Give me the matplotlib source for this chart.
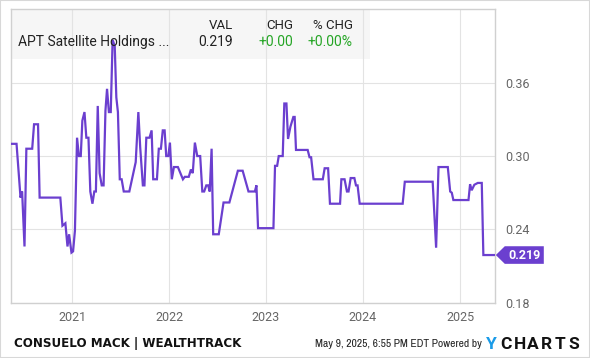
import numpy as np
import pandas as pd
import matplotlib
matplotlib.use("Agg")
import matplotlib.pyplot as plt
import matplotlib.dates as mdates
from matplotlib.patches import Rectangle, Polygon
from matplotlib import font_manager

plt.rcParams['font.family'] = ['Roboto', 'DejaVu Sans']

# price history
dates = [
    "2020-05-13", "2020-06-05", "2020-06-20", "2020-06-26", "2020-07-05", "2020-07-12",
    "2020-08-03", "2020-08-10", "2020-08-25", "2020-08-31", "2020-11-17", "2020-11-25",
    "2020-12-06", "2020-12-14", "2020-12-20", "2020-12-29", "2021-01-04", "2021-01-11",
    "2021-01-19", "2021-01-26", "2021-02-02", "2021-02-08", "2021-02-16", "2021-02-23",
    "2021-03-03", "2021-03-10", "2021-03-18", "2021-03-25", "2021-03-31", "2021-04-07",
    "2021-04-14", "2021-04-22", "2021-04-29", "2021-05-06", "2021-05-12", "2021-05-19",
    "2021-05-26", "2021-06-02", "2021-06-10", "2021-06-16", "2021-06-22", "2021-06-29",
    "2021-07-06", "2021-07-14", "2021-08-04", "2021-08-28", "2021-09-07", "2021-09-14",
    "2021-09-24", "2021-09-30", "2021-10-07", "2021-10-19", "2021-10-27", "2021-11-02",
    "2021-11-16", "2021-11-23", "2021-12-01", "2021-12-08", "2021-12-15", "2021-12-21",
    "2021-12-29", "2022-01-04", "2022-01-11", "2022-01-19", "2022-02-03", "2022-02-22",
    "2022-03-01", "2022-03-16", "2022-03-24", "2022-03-31", "2022-04-08", "2022-04-17",
    "2022-04-28", "2022-05-06", "2022-05-13", "2022-05-21", "2022-05-28", "2022-06-03",
    "2022-06-10", "2022-06-16", "2022-07-07", "2022-07-25", "2022-08-16", "2022-09-17",
    "2022-10-05", "2022-10-27", "2022-11-20", "2022-11-26", "2022-12-02", "2023-01-29",
    "2023-02-04", "2023-02-12", "2023-02-18", "2023-03-05", "2023-03-11", "2023-03-19",
    "2023-03-25", "2023-04-03", "2023-04-14", "2023-04-19", "2023-04-24", "2023-06-07",
    "2023-06-14", "2023-06-20", "2023-06-29", "2023-08-03", "2023-08-10", "2023-08-23",
    "2023-08-30", "2023-10-07", "2023-10-12", "2023-10-24", "2023-11-02", "2023-11-08",
    "2023-11-16", "2023-11-30", "2023-12-06", "2023-12-12", "2023-12-20", "2024-05-30",
    "2024-06-07", "2024-09-20", "2024-10-03", "2024-10-12", "2024-11-16", "2024-11-25",
    "2024-12-01", "2024-12-07", "2025-02-02", "2025-02-08", "2025-02-14", "2025-02-24",
    "2025-03-09", "2025-03-24", "2025-03-30", "2025-05-12",
]
prices = [
    0.310, 0.310, 0.266, 0.271, 0.226, 0.306,
    0.306, 0.326, 0.326, 0.266, 0.266, 0.243,
    0.245, 0.226, 0.236, 0.221, 0.222, 0.239,
    0.315, 0.300, 0.300, 0.329, 0.336, 0.315,
    0.315, 0.271, 0.261, 0.271, 0.271, 0.341,
    0.286, 0.276, 0.276, 0.337, 0.355, 0.336,
    0.336, 0.395, 0.390, 0.348, 0.336, 0.281,
    0.281, 0.271, 0.271, 0.295, 0.336, 0.307,
    0.276, 0.276, 0.315, 0.315, 0.321, 0.281,
    0.281, 0.306, 0.306, 0.321, 0.321, 0.300,
    0.300, 0.311, 0.281, 0.291, 0.291, 0.281,
    0.283, 0.283, 0.289, 0.286, 0.311, 0.300,
    0.300, 0.271, 0.271, 0.276, 0.276, 0.271,
    0.306, 0.236, 0.236, 0.262, 0.262, 0.288,
    0.288, 0.271, 0.271, 0.276, 0.241, 0.241,
    0.292, 0.292, 0.300, 0.300, 0.343, 0.343,
    0.314, 0.324, 0.332, 0.332, 0.305, 0.305,
    0.299, 0.299, 0.281, 0.281, 0.290, 0.290,
    0.261, 0.261, 0.281, 0.281, 0.271, 0.271,
    0.282, 0.282, 0.276, 0.276, 0.261, 0.261,
    0.279, 0.279, 0.225, 0.291, 0.291, 0.271,
    0.270, 0.264, 0.264, 0.277, 0.272, 0.2765,
    0.278, 0.278, 0.219, 0.219,
]
x = pd.to_datetime(dates)

y_ticks = [0.18, 0.24, 0.30, 0.36]
year_ticks = ["2021", "2022", "2023", "2024", "2025"]

name = "APT Satellite Holdings ..."
last_val = "0.219"
chg = "+0.00"
pct_chg = "+0.00%"

purple = "#6b3fcf"
green = "#25a525"
W, H = 590, 358

fig = plt.figure(figsize=(W / 100, H / 100), dpi=100)
L, R, T, B = 10.7, 495.3, 9.4, 302.7
ax = fig.add_axes([L / W, 1 - B / H, (R - L) / W, (B - T) / H])

ax.plot(x, prices, color=purple, lw=1.6, solid_joinstyle="miter", zorder=3)

ax.set_xlim(pd.Timestamp("2020-05-14"), pd.Timestamp("2025-05-14"))
ax.set_ylim(0.18, 0.42)
ax.set_yticks(y_ticks)
ax.set_yticklabels(["%.2f" % v for v in y_ticks])
ax.set_xticks(pd.to_datetime([y + "-01-01" for y in year_ticks]))
ax.set_xticklabels(year_ticks)
ax.yaxis.tick_right()
ax.tick_params(length=0, labelsize=9, colors="#666666")
ax.tick_params(axis="y", pad=7)
ax.tick_params(axis="x", pad=6)
ax.grid(True, color="#e3e3e3", lw=0.8)
for s in ax.spines.values():
    s.set_color("#d0d0d0")
    s.set_linewidth(1)

# legend box behind the gridlines
ax.add_patch(Rectangle((0, (B - 59) / (B - T)), (370 - L) / (R - L), 1 - (B - 59) / (B - T),
                       transform=ax.transAxes, facecolor="#f6f6f6", edgecolor="none", zorder=0))


def px(xp, yp):
    return xp / W, 1 - yp / H


fig.text(*px(18, 46), name, fontsize=10, color="#222222", va="baseline", ha="left")
fig.text(*px(233, 29.3), "VAL", fontsize=9.5, color="#222222", va="baseline", ha="right")
fig.text(*px(293, 29.3), "CHG", fontsize=9.5, color="#222222", va="baseline", ha="right")
fig.text(*px(353, 29.3), "% CHG", fontsize=9.5, color="#222222", va="baseline", ha="right")
fig.text(*px(233, 46), last_val, fontsize=10, color="#222222", va="baseline", ha="right")
fig.text(*px(293, 46), chg, fontsize=10, color=green, va="baseline", ha="right")
fig.text(*px(353, 46), pct_chg, fontsize=10, color=green, va="baseline", ha="right")

# last value tag
fig.canvas.draw()
_, yc = ax.transData.transform((0, prices[-1]))
yc = H - yc
x0 = R + 0.5
hh = 8.8
tag = [px(x0, yc), px(x0 + 9, yc - hh), px(x0 + 48, yc - hh), px(x0 + 48, yc + hh), px(x0 + 9, yc + hh)]
fig.patches.append(Polygon(tag, closed=True, transform=fig.transFigure, facecolor=purple,
                           edgecolor="none"))
fig.text(*px(x0 + 29, yc), last_val, fontsize=9, fontweight="bold", color="white",
         ha="center", va="center")

# footer
fig.text(*px(14, 343), "CONSUELO MACK | WEALTHTRACK", family="DejaVu Sans", fontweight="bold",
         fontsize=8.6, color="#111111", ha="left", va="center")
narrow = [f.name for f in font_manager.fontManager.ttflist if "Narrow" in f.name]
fig.text(*px(482, 344), "May 9, 2025, 6:55 PM EDT Powered by",
         family=(narrow[:1] + ["Roboto"]), fontsize=8.3, color="#222222", ha="right", va="center")
logo_x = 486
for i, ch in enumerate("YCHARTS"):
    fig.text(*px(logo_x + i * 13.8, 344.5), ch, fontsize=12.5, fontweight="bold",
             color="#1a9be8" if ch == "Y" and i == 0 else "#111111", ha="left", va="center")

fig.patches.append(Rectangle((0, 0), 1, 1, transform=fig.transFigure, fill=False,
                             edgecolor="#d8d8d8", lw=1.5))

fig.savefig("out.png", dpi=100)
